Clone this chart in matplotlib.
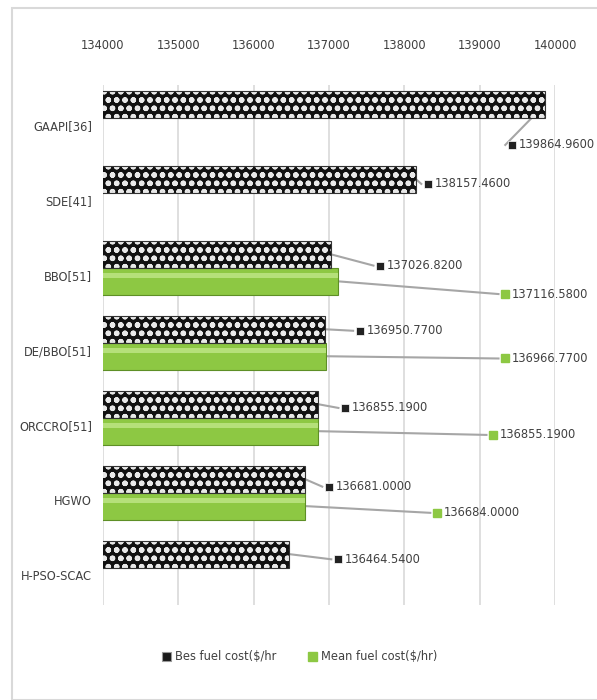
import matplotlib.pyplot as plt
from matplotlib.patches import Patch, Rectangle

plt.rcParams['font.family'] = ['DejaVu Sans']
plt.rcParams['font.stretch'] = 'condensed'
plt.rcParams['hatch.linewidth'] = 1.6

# data
methods = ['GAAPI[36]', 'SDE[41]', 'BBO[51]', 'DE/BBO[51]', 'ORCCRO[51]', 'HGWO', 'H-PSO-SCAC']
best_cost = [139864.96, 138157.46, 137026.82, 136950.77, 136855.19, 136681.00, 136464.54]
mean_cost = [None, None, 137116.58, 136966.77, 136855.19, 136684.00, None]
xticks = [134000, 135000, 136000, 137000, 138000, 139000, 140000]

# label placement (x in data units, y in category units)
best_lab_x = [139430, 138315, 137680, 137410, 137215, 137000, 137120]
best_lab_y = [0.36, 0.88, 1.97, 2.84, 3.87, 4.92, 5.89]
mean_lab_x = [None, None, 139340, 139340, 139180, 138435, None]
mean_lab_y = [None, None, 2.35, 3.21, 4.23, 5.27, None]

green = '#8dc843'
txt = '#404040'
bh = 0.36
fs = 9.2

fig = plt.figure(figsize=(5.97, 7.0), dpi=100)
fig.patches.append(Rectangle((12 / 597, 0), 1, 1 - 8 / 700, transform=fig.transFigure,
                             fill=False, edgecolor='#d9d9d9', lw=1.5))
ax = fig.add_axes([103 / 597, 95 / 700, 452 / 597, 520 / 700])

ys = list(range(len(methods)))
# best bars: dark with white circular hatch
ax.barh([y - bh / 2 for y in ys], best_cost, height=bh, left=0, color='#111111',
        edgecolor='#e8e8e8', hatch='oo', lw=0, zorder=3)
ax.barh([y - bh / 2 for y in ys], best_cost, height=bh, left=0, fill=False,
        edgecolor='#333333', lw=0.8, zorder=4)

for i, m in enumerate(mean_cost):
    if m is None:
        continue
    ax.barh(i + bh / 2, m, height=bh, color=green, edgecolor='#5e8f26', lw=0.8, zorder=3)
    ax.barh(i + bh / 2 - bh * 0.22, m, height=bh * 0.18, color='#b5e07a', lw=0, zorder=3)

# data labels with leader lines
for i in ys:
    bx, by = best_cost[i], i - bh / 2
    lx, ly = best_lab_x[i], best_lab_y[i]
    ax.plot([bx, lx - 90], [by, ly], color='#a6a6a6', lw=1.5, zorder=2)
    ax.plot(lx, ly, marker='s', ms=6, mfc='#222222', mec='white', mew=0.5, zorder=5)
    ax.text(lx + 90, ly, f'{best_cost[i]:.4f}', va='center', ha='left', fontsize=fs, color=txt)
    if mean_cost[i] is not None:
        mx, my = mean_cost[i], i + bh / 2
        lx, ly = mean_lab_x[i], mean_lab_y[i]
        ax.plot([mx, lx - 90], [my, ly], color='#a6a6a6', lw=1.5, zorder=2)
        ax.plot(lx, ly, marker='s', ms=6, mfc=green, mec=green, zorder=5)
        ax.text(lx + 90, ly, f'{mean_cost[i]:.4f}', va='center', ha='left', fontsize=fs, color=txt)

ax.set_xlim(134000, 140000)
ax.set_ylim(6.5, -0.44)
ax.set_xticks(xticks)
ax.xaxis.tick_top()
ax.tick_params(axis='x', length=0, pad=24, labelsize=fs, labelcolor=txt)
ax.set_yticks([y + 0.1 for y in ys])
ax.set_yticklabels(methods)
ax.tick_params(axis='y', length=0, pad=8, labelsize=fs, labelcolor=txt)
ax.grid(axis='x', color='#d9d9d9', lw=1.2, zorder=0)
for s in ax.spines.values():
    s.set_visible(False)

handles = [Patch(facecolor='#1a1a1a', edgecolor='#999999', lw=0.8),
           Patch(facecolor=green, edgecolor=green)]
fig.legend(handles, ['Bes fuel cost($/hr', 'Mean fuel cost($/hr)'], loc='center',
           bbox_to_anchor=(300 / 597, 1 - 657 / 700), ncol=2, frameon=False,
           fontsize=fs, labelcolor=txt, handlelength=0.7, handleheight=0.7,
           handletextpad=0.3, columnspacing=2.5)

fig.savefig('out.png', dpi=100)
